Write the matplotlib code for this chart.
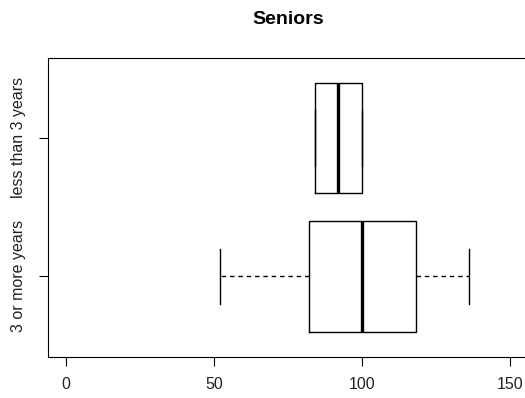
import matplotlib
matplotlib.use("Agg")
import matplotlib.pyplot as plt

# ── Data ───────────────────────────────────────────────────────────────────
GROUPS   = ["3 or more years", "less than 3 years"]
WHIS_LO  = [52, 84]
Q1       = [82, 84]
MEDIAN   = [100, 92]
Q3       = [118, 100]
WHIS_HI  = [136, 100]
X_TICKS  = [0, 50, 100, 150]
TITLE    = "Seniors"

plt.rcParams["font.family"] = ["Liberation Sans", "DejaVu Sans"]

W, H = 525, 398
fig = plt.figure(figsize=(W / 100, H / 100), dpi=100)

# axes box in pixels: left 47.7, bottom 356.6, top 57.6, right ~528 (cut off)
left, right, top, bottom = 47.7, 528.3, 57.6, 356.6
ax = fig.add_axes([left / W, 1 - bottom / H, (right - left) / W, (bottom - top) / H])

stats = []
for i, name in enumerate(GROUPS):
    stats.append(dict(label=name, whislo=WHIS_LO[i], q1=Q1[i], med=MEDIAN[i],
                      q3=Q3[i], whishi=WHIS_HI[i], fliers=[]))

line = dict(color="black", linewidth=1.0)
ax.bxp(stats, positions=[1, 2], widths=0.8, capwidths=0.4,
       orientation="horizontal", showfliers=False,
       boxprops=line,
       medianprops=dict(color="black", linewidth=2.4, solid_capstyle="butt"),
       whiskerprops=dict(color="black", linewidth=1.0, linestyle=(0, (3.2, 2.8))),
       capprops=line)

ax.set_xlim(-6, 156)
ax.set_ylim(0.42, 2.58)
ax.set_xticks(X_TICKS)
ax.set_xticklabels([str(t) for t in X_TICKS])
ax.set_yticks([1, 2])
ax.set_yticklabels(GROUPS, rotation=90, va="center")

ax.tick_params(axis="both", length=6.5, width=0.8, labelsize=11.5,
               color="black", labelcolor="#222222")
ax.tick_params(axis="x", pad=8.2)
ax.tick_params(axis="y", pad=9.1)
for s in ax.spines.values():
    s.set_linewidth(0.8)

fig.text((left + right) / 2 / W, 1 - 19.5 / H, TITLE, ha="center", va="center",
         fontsize=14, fontweight="bold")

fig.savefig("out.png", dpi=100)
